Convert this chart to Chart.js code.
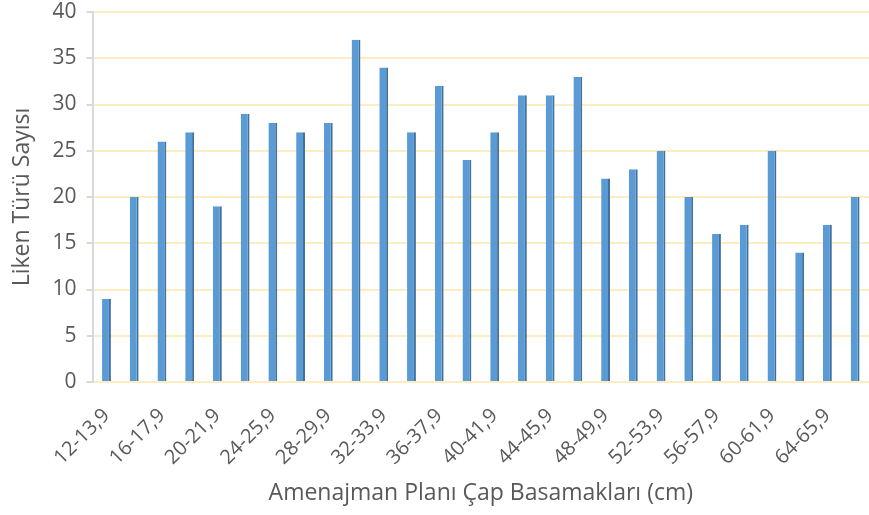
<!DOCTYPE html>
<html>
<head>
<meta charset="utf-8">
<script src="https://cdn.jsdelivr.net/npm/chart.js@4.4.1/dist/chart.umd.min.js"></script>
<style>
  html, body { margin: 0; padding: 0; background: #fff; }
  #wrap { width: 869px; height: 515px; }
</style>
</head>
<body>
<div id="wrap"><canvas id="chart" width="869" height="515"></canvas></div>
<script>
  // çap basamakları
  const classes = [
    '12-13,9', '14-15,9', '16-17,9', '18-19,9', '20-21,9', '22-23,9', '24-25,9',
    '26-27,9', '28-29,9', '30-31,9', '32-33,9', '34-35,9', '36-37,9', '38-39,9',
    '40-41,9', '42-43,9', '44-45,9', '46-47,9', '48-49,9', '50-51,9', '52-53,9',
    '54-55,9', '56-57,9', '58-59,9', '60-61,9', '62-63,9', '64-65,9', '66-67,9'
  ];
  // liken türü sayısı
  const speciesCount = [
    9, 20, 26, 27, 19, 29, 28, 27, 28, 37, 34, 27, 32, 24,
    27, 31, 31, 33, 22, 23, 25, 20, 16, 17, 25, 14, 17, 20
  ];
  const yTicks = [0, 5, 10, 15, 20, 25, 30, 35, 40];

  const textColor = '#595959';
  const fontFamily = "'Open Sans', 'Noto Sans', sans-serif";

  new Chart(document.getElementById('chart'), {
    type: 'bar',
    data: {
      labels: classes,
      datasets: [{
        data: speciesCount,
        backgroundColor: '#5B9BD5',
        borderColor: '#41719C',
        borderWidth: { top: 0, left: 0, bottom: 0, right: 2 },
        borderSkipped: false,
        barPercentage: 0.32,
        categoryPercentage: 1
      }]
    },
    options: {
      responsive: false,
      animation: false,
      layout: { padding: { left: 5, right: 0, top: 0, bottom: 4 } },
      plugins: {
        legend: { display: false },
        tooltip: { enabled: false }
      },
      scales: {
        x: {
          // eksen yüksekliğini sabitle
          afterFit: s => { s.paddingRight = 0; s.height = 129; },
          grid: { display: false },
          border: { display: false },
          ticks: {
            autoSkip: false,
            maxRotation: 45,
            minRotation: 45,
            color: textColor,
            font: { family: fontFamily, size: 20 },
            padding: 14,
            callback: (v, i) => (i % 2 === 0 ? classes[i] : '')
          },
          title: {
            display: true,
            text: 'Amenajman Planı Çap Basamakları (cm)',
            color: textColor,
            font: { family: fontFamily, size: 23 },
            padding: { top: 6 }
          }
        },
        y: {
          min: 0,
          max: 40,
          afterFit: s => { s.paddingTop = 12; },
          afterBuildTicks: axis => { axis.ticks = yTicks.map(v => ({ value: v })); },
          grid: {
            color: '#FFEDC2',
            lineWidth: 2,
            tickColor: '#D9D9D9',
            tickLength: 6
          },
          border: { display: true, color: '#D9D9D9', width: 2 },
          ticks: {
            color: textColor,
            font: { family: fontFamily, size: 21 },
            padding: 10
          },
          title: {
            display: true,
            text: 'Liken Türü Sayısı',
            color: textColor,
            font: { family: fontFamily, size: 23 },
            padding: { bottom: 6 }
          }
        }
      }
    }
  });
</script>
</body>
</html>
